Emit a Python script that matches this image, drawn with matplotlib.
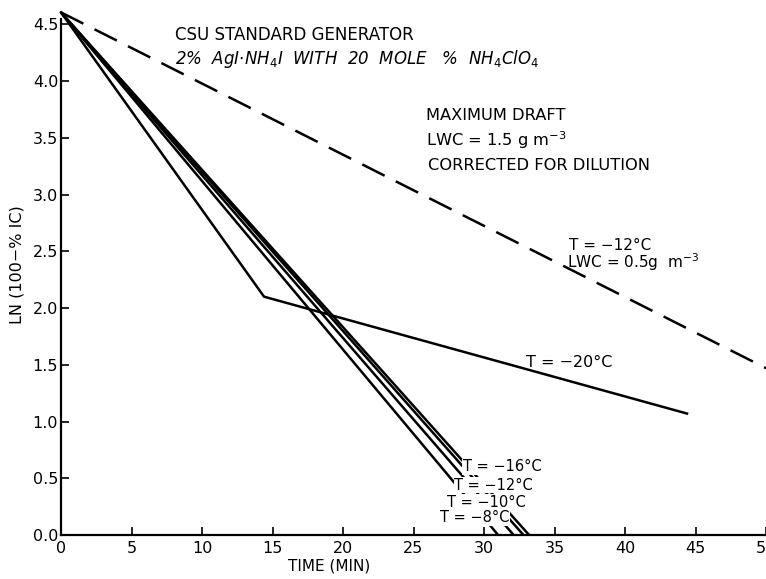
import numpy as np
import matplotlib
matplotlib.use('Agg')
import matplotlib.pyplot as plt

# Data
start_time = 0.0
start_ln = 4.605  # ln(100)

# bundle of four straight lines reaching 0 at these times (min)
bundle_temps = ['-16', '-12', '-10', '-8']
bundle_end_time = [31.0, 32.1, 32.8, 33.2]

# T = -20 C line (broken)
t20_time = [0.0, 14.4, 44.4]
t20_ln = [4.605, 2.10, 1.07]

# dashed line T = -12 C, LWC = 0.5
dash_time = [0.0, 50.0]
dash_ln = [4.605, 1.47]

xticks = [0, 5, 10, 15, 20, 25, 30, 35, 40, 45, 50]
yticks = [0.0, 0.5, 1.0, 1.5, 2.0, 2.5, 3.0, 3.5, 4.0, 4.5]

plt.rcParams['font.family'] = ['DejaVu Sans']

fig = plt.figure(figsize=(7.66, 5.79), dpi=100)
ax = fig.add_axes([61 / 766, 44 / 579, 705 / 766, 530 / 579])

LW = 1.8
for end in bundle_end_time:
    ax.plot([start_time, end], [start_ln, 0.0], color='black', lw=LW,
            solid_capstyle='butt', clip_on=False)
ax.plot(t20_time, t20_ln, color='black', lw=LW, clip_on=False)
ax.plot(dash_time, dash_ln, color='black', lw=LW, linestyle=(0, (10, 5)),
        clip_on=False)

ax.set_xlim(0, 50)
ax.set_ylim(0, 4.67)

ax.set_xticks(xticks)
ax.set_xticklabels([str(v) for v in xticks])
ax.set_yticks(yticks)
ax.set_yticklabels([f'{v:.1f}' for v in yticks])
ax.tick_params(direction='in', length=6, width=1.2, labelsize=11.5, pad=4)
ax.tick_params(axis='y', pad=2)

for s in ['top', 'right']:
    ax.spines[s].set_visible(False)
ax.spines['left'].set_linewidth(1.6)
ax.spines['bottom'].set_linewidth(1.6)
ax.spines['left'].set_bounds(0, 4.55)

ax.set_xlabel('TIME (MIN)', fontsize=11)
ax.set_ylabel('LN (100−% IC)', fontsize=11.5)
ax.yaxis.set_label_coords(-0.052, 0.51)
ax.xaxis.set_label_coords(0.38, -0.044)

# Annotations
ax.text(8.1, 4.41, 'CSU STANDARD GENERATOR', fontsize=12, va='center')
ax.text(8.1, 4.19, r'2%  AgI$\cdot$NH$_4$I  WITH  20  MOLE   %  NH$_4$ClO$_4$',
        fontsize=12, va='center', style='italic')
ax.text(25.9, 3.70, 'MAXIMUM DRAFT', fontsize=11.7, va='center')
ax.text(25.9, 3.48, r'LWC = 1.5 g m$^{-3}$', fontsize=11.7, va='center')
ax.text(26.0, 3.26, 'CORRECTED FOR DILUTION', fontsize=11.7, va='center')
ax.text(36.0, 2.55, 'T = −12°C', fontsize=11, va='center')
ax.text(35.9, 2.40, r'LWC = 0.5g  m$^{-3}$', fontsize=11, va='center')
ax.text(33.0, 1.52, 'T = −20°C', fontsize=11.5, va='center')

bbox = dict(boxstyle='square,pad=0.05', facecolor='white', edgecolor='none')
label_pos = [(28.5, 0.60), (27.9, 0.44), (27.4, 0.29), (26.9, 0.15)]
for temp, (x, y) in zip(bundle_temps, label_pos):
    ax.text(x, y, f'T = −{temp.lstrip("-")}°C', fontsize=10.5, va='center',
            bbox=bbox, zorder=5)

fig.savefig('out.png', dpi=100)
